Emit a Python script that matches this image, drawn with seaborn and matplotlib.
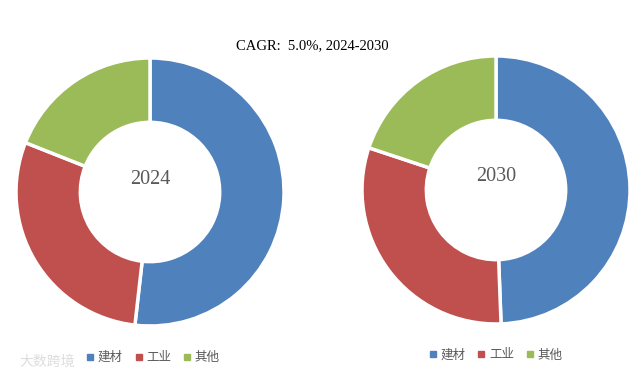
import matplotlib
matplotlib.use("Agg")
import matplotlib.pyplot as plt
from matplotlib.lines import Line2D
import seaborn as sns

# shares (clockwise from 12 o'clock)
labels = ["建材", "工业", "其他"]
shares_2024 = [51.8, 29.2, 19.0]
shares_2030 = [49.4, 30.7, 19.9]
years = ["2024", "2030"]
title = "CAGR:  5.0%, 2024-2030"

sns.set_style("white")
plt.rcParams['font.family'] = ['Noto Sans CJK SC', 'DejaVu Sans']
colors = ["#4F81BD", "#C0504D", "#9BBB59"]

fig = plt.figure(figsize=(6.43, 3.78), dpi=100)

# axes boxes: [left, bottom, width, height] in figure fractions
boxes = [[0.0249, 0.1376, 0.4168, 0.709], [0.563, 0.1429, 0.4168, 0.709]]
legend_pos = [(0.238, 0.054), (0.771, 0.061)]
year_y = [0.09, 0.10]

for box, shares, year, lpos, yy in zip(boxes, [shares_2024, shares_2030], years, legend_pos, year_y):
    ax = fig.add_axes(box)
    ax.pie(shares, colors=colors, startangle=90, counterclock=False, radius=1,
           wedgeprops=dict(width=0.48, edgecolor="white", linewidth=2.5))
    ax.set_xlim(-1.0, 1.0)
    ax.set_ylim(-1.0, 1.0)
    ax.set_aspect("equal")
    ax.axis("off")
    ax.text(0, yy, year, ha="center", va="center", fontsize=14.5,
            color="#595959", family=["Liberation Serif", "DejaVu Serif"])

    handles = [Line2D([], [], marker="s", linestyle="", markersize=4.5,
                      markerfacecolor=c, markeredgecolor=c) for c in colors]
    fig.legend(handles, labels, loc="center", bbox_to_anchor=lpos, ncol=3,
               frameon=False, fontsize=9, labelcolor="#595959",
               handlelength=0.6, handletextpad=0.3, columnspacing=1.0)

fig.text(0.485, 0.88, title, ha="center", va="center", fontsize=10.5,
         color="black", family=["Liberation Serif", "DejaVu Serif"])

# faint watermark at lower left
fig.text(0.03, 0.042, "大数跨境", ha="left", va="center", fontsize=10, color="#dddddd")

fig.savefig("out.png", dpi=100)
